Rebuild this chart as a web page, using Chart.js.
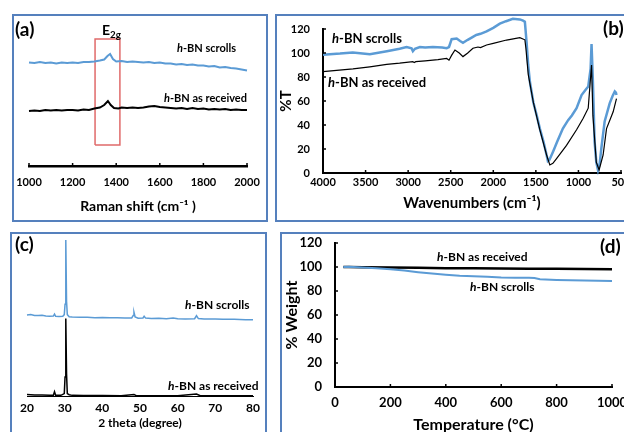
<!DOCTYPE html>
<html>
<head>
<meta charset="utf-8">
<script src="https://cdn.jsdelivr.net/npm/chart.js@4.4.1/dist/chart.umd.min.js"></script>
<style>
  body { margin: 0; width: 624px; height: 432px; overflow: hidden; background: #fff; position: relative; font-family: Lato, sans-serif; }
  .panel { position: absolute; border: 2px solid #5580bd; box-sizing: border-box; }
  .panel canvas { position: absolute; left: 0; top: 0; }
  .lbl { position: absolute; font-weight: bold; line-height: 1; white-space: nowrap; color: #000; }
  .tag { font-size: 19px; }
  sub { font-size: 70%; vertical-align: -3px; }
</style>
</head>
<body>
<div class="panel" style="left:12px;top:14px;width:256px;height:208px;"><canvas id="chartA" width="252" height="204"></canvas></div>
<div class="panel" style="left:275px;top:14px;width:362px;height:208px;"><canvas id="chartB" width="356" height="204"></canvas></div>
<div class="panel" style="left:10px;top:232px;width:257px;height:210px;"><canvas id="chartC" width="253" height="200"></canvas></div>
<div class="panel" style="left:280px;top:232px;width:360px;height:210px;"><canvas id="chartD" width="356" height="200"></canvas></div>

<div class="lbl tag" style="left:15px;top:19px;">(a)</div>
<div class="lbl" style="left:102px;top:23px;font-size:14px;">E<sub>2g</sub></div>
<div class="lbl" style="left:177px;top:42px;font-size:11px;"><i>h</i>-BN scrolls</div>
<div class="lbl" style="left:164px;top:92px;font-size:11px;"><i>h</i>-BN as received</div>

<div class="lbl tag" style="left:603px;top:18px;">(b)</div>
<div class="lbl" style="left:332px;top:32px;font-size:13px;"><i>h</i>-BN scrolls</div>
<div class="lbl" style="left:328px;top:76px;font-size:13px;"><i>h</i>-BN as received</div>

<div class="lbl tag" style="left:15px;top:234px;">(c)</div>
<div class="lbl" style="left:185px;top:299px;font-size:12px;"><i>h</i>-BN scrolls</div>
<div class="lbl" style="left:168px;top:380px;font-size:12px;"><i>h</i>-BN as received</div>

<div class="lbl tag" style="left:600px;top:236px;">(d)</div>
<div class="lbl" style="left:437px;top:251px;font-size:12px;"><i>h</i>-BN as received</div>
<div class="lbl" style="left:470px;top:281px;font-size:12px;"><i>h</i>-BN scrolls</div>

<script>
// (a) Raman, arbitrary intensity
const ramanShift = [1000, 1025, 1050, 1075, 1100, 1125, 1150, 1175, 1200, 1225, 1250, 1275, 1300, 1325, 1345, 1360, 1372, 1385, 1400, 1425, 1450, 1475, 1500, 1525, 1550, 1575, 1600, 1625, 1650, 1675, 1700, 1725, 1750, 1775, 1800, 1825, 1850, 1875, 1900, 1925, 1950, 1975, 2000];
const ramanScrolls = [103.5, 103, 104, 103, 103.5, 102.5, 103.5, 103, 103.5, 103, 104, 104, 104.5, 105.5, 106.5, 110, 112, 107, 104.5, 105, 104, 104.5, 104, 103.5, 104, 103, 103.5, 102.5, 102.5, 101.5, 102, 101, 101.5, 100.5, 100.5, 99.5, 100, 98.5, 99, 98, 97.5, 96.5, 95.5];
const ramanShiftRecv = [1000, 1025, 1050, 1075, 1100, 1125, 1150, 1175, 1200, 1225, 1250, 1275, 1300, 1325, 1345, 1362, 1375, 1390, 1410, 1425, 1450, 1475, 1500, 1525, 1550, 1575, 1600, 1625, 1650, 1675, 1700, 1725, 1750, 1775, 1800, 1825, 1850, 1875, 1900, 1925, 1950, 1975, 2000];
const ramanReceived = [55, 55.5, 55, 56, 55.5, 56, 55.5, 56, 56, 55.5, 56.5, 56, 57.5, 58.5, 61, 65, 61, 58, 57.5, 58.5, 58, 58.5, 58, 58.5, 59.5, 60, 59, 58.5, 58, 57.5, 58, 57, 58, 57, 57.5, 56.5, 57, 56.5, 57, 56, 56.5, 56, 56];
const e2gBoxX = [1303, 1303, 1417, 1417, 1303];
const e2gBoxY = [21, 127, 127, 21, 21];
const ramanTicks = [1000, 2000, 200];

// (b) FTIR
const irScrollsWn = [4000, 3800, 3650, 3450, 3250, 3100, 3018, 2960, 2944, 2920, 2862, 2800, 2709, 2600, 2548, 2520, 2489, 2430, 2390, 2356, 2300, 2239, 2200, 2150, 2079, 2000, 1923, 1850, 1770, 1688, 1650, 1629, 1609, 1590, 1570, 1530, 1490, 1453, 1410, 1374, 1359, 1340, 1297, 1250, 1183, 1121, 1077, 1022, 963, 920, 885, 857, 846, 830, 810, 790, 770, 750, 731, 692, 633, 600, 573, 560, 553];
const irScrollsT = [98.5, 99.5, 100.5, 99, 101.5, 103.5, 105, 104, 101.5, 103.5, 105, 104.5, 105, 104.5, 104, 105, 111.5, 112, 110, 108.5, 111, 113.5, 115, 116, 118, 121, 124.5, 126.5, 128.5, 128, 127, 126, 109, 90, 76, 59, 48, 37, 26, 15, 10, 11, 18, 26, 37, 44, 48, 54, 65, 69, 72, 87, 107.5, 76, 26, 9, 2.5, 8, 20.5, 43, 58, 64, 68, 67, 65];
const irReceivedWn = [4000, 3648, 3450, 3252, 3100, 2944, 2930, 2910, 2800, 2650, 2548, 2520, 2490, 2450, 2400, 2356, 2300, 2239, 2180, 2150, 2079, 2000, 1844, 1750, 1688, 1629, 1617, 1589, 1530, 1453, 1374, 1336, 1300, 1257, 1140, 1022, 944, 885, 846, 830, 790, 757, 710, 670, 592, 553];
const irReceivedT = [84.4, 86.7, 88.5, 90.5, 91.5, 92.8, 92, 92.8, 93.5, 94.5, 95.5, 94, 98, 102.5, 100, 97, 100, 104, 105, 104.5, 106.7, 108, 110.8, 112, 112.8, 111, 104, 82, 59, 36, 15, 6.7, 8, 12, 23, 36, 45.6, 54, 90, 48, 9, 2.5, 15, 37, 51, 62];
const irTicksX = [500, 4000, 500];
const irTicksY = [0, 120, 20];

// (c) XRD, arbitrary intensity
const xrdScrollsX = [20, 21, 22, 23, 24, 25, 26, 27, 27.3, 27.6, 28.5, 29.5, 29.9, 30.1, 30.3, 30.5, 30.7, 31.2, 32, 34, 36, 38, 40, 42, 44, 46, 47.8, 48.2, 48.4, 48.7, 49.5, 50.8, 51.1, 51.5, 53, 55, 57, 58.8, 60, 62, 64.5, 65, 65.5, 67, 70, 72, 75, 78, 80];
const xrdScrollsY = [51.3, 51.6, 51, 50.9, 51.1, 50.7, 50.5, 50.6, 51.8, 50.4, 50.3, 50.5, 51.5, 58, 98.7, 60, 51.5, 50.2, 50, 49.8, 49.9, 49.6, 49.7, 49.5, 49.6, 49.3, 49.4, 51, 53, 50, 49.2, 49.4, 50.5, 49.3, 49.1, 49.2, 48.9, 49.4, 48.9, 48.8, 48.9, 50.8, 49, 48.7, 48.8, 48.5, 48.6, 48.3, 48.2];
const xrdReceivedX = [20, 22, 24, 26, 27, 27.3, 27.6, 29, 29.9, 30.1, 30.3, 30.5, 30.7, 31.2, 32, 35, 40, 45, 48.4, 49, 55, 60, 65, 66, 70, 75, 80];
const xrdReceivedY = [0.9, 0.7, 0.6, 0.5, 0.5, 2.7, 0.5, 0.4, 1.5, 12, 49, 14, 1.5, 0.8, 0.4, 0.3, 0.3, 0.2, 1, 0.2, 0.2, 0.2, 1.2, 0.2, 0.2, 0.2, 0.2];
const xrdTicks = [20, 80, 10];

// (d) TGA
const tgaReceivedT = [30, 50, 100, 200, 300, 400, 500, 600, 700, 800, 900, 1000];
const tgaReceivedW = [100, 100, 99.7, 99.5, 99.3, 99, 98.9, 98.7, 98.6, 98.5, 98.3, 98.2];
const tgaScrollsT = [30, 50, 100, 150, 200, 250, 300, 350, 400, 450, 500, 550, 600, 650, 700, 720, 740, 800, 900, 1000];
const tgaScrollsW = [100, 100.2, 99.6, 99, 98.2, 97, 95.7, 94.5, 93.5, 92.7, 92.2, 91.8, 91.3, 91.1, 91, 90.8, 89.8, 89.2, 88.7, 88.4];
const tgaTicksX = [0, 1000, 200];
const tgaTicksY = [0, 120, 20];

const BLUE = "#5b9bd5";

Chart.defaults.font.family = "Lato";
Chart.defaults.font.weight = "bold";
Chart.defaults.color = "#000";

function pts(xs, ys) {
    return xs.map((x, i) => ({ x: x, y: ys[i] }));
}

function line(xs, ys, color, width) {
    return {
        data: pts(xs, ys),
        borderColor: color,
        borderWidth: width,
        pointRadius: 0,
        tension: 0,
        fill: false,
        clip: false
    };
}

// short tick marks drawn inward from the axis line
const innerTicks = {
    id: "innerTicks",
    afterDraw(chart, args, opts) {
        const ctx = chart.ctx;
        ctx.save();
        ctx.strokeStyle = "#000";
        ctx.lineWidth = opts.width || 1.5;
        (opts.axes || []).forEach(id => {
            const s = chart.scales[id];
            s.ticks.forEach(t => {
                const p = s.getPixelForValue(t.value);
                ctx.beginPath();
                if (s.isHorizontal()) {
                    ctx.moveTo(p, s.top);
                    ctx.lineTo(p, s.top - opts.len);
                } else {
                    ctx.moveTo(s.right, p);
                    ctx.lineTo(s.right + opts.len, p);
                }
                ctx.stroke();
            });
        });
        ctx.restore();
    }
};

const plain = v => String(v);

// fixed axis size; edge labels may overhang, the layout padding decides the plot box
function fixSize(key, size) {
    return s => {
        s[key] = size;
        s.paddingLeft = s.paddingRight = s.paddingTop = s.paddingBottom = 0;
    };
}

function xAxis(range, opts) {
    return {
        type: "linear",
        min: range[0],
        max: range[1],
        reverse: !!opts.reverse,
        display: true,
        afterFit: fixSize("height", opts.height),
        grid: { display: false, drawTicks: false },
        border: { display: true, color: "#000", width: opts.borderWidth || 2 },
        ticks: {
            stepSize: range[2],
            autoSkip: false,
            maxRotation: 0,
            padding: opts.pad,
            callback: plain,
            font: { size: opts.font, weight: "bold" }
        },
        title: {
            display: true,
            text: opts.title,
            font: { size: opts.titleFont, weight: "bold" },
            padding: { top: 0, bottom: opts.titlePad }
        }
    };
}

function yAxis(range, opts) {
    return {
        type: "linear",
        min: range[0],
        max: range[1],
        afterFit: fixSize("width", opts.width),
        grid: { display: false, drawTicks: false },
        border: { display: true, color: "#000", width: 2 },
        ticks: {
            stepSize: range[2],
            autoSkip: false,
            padding: opts.pad,
            callback: plain,
            font: { size: opts.font, weight: "bold" }
        },
        title: {
            display: true,
            text: opts.title,
            font: { size: opts.titleFont, weight: "bold" },
            padding: { top: opts.titlePad, bottom: 0 }
        }
    };
}

function hiddenY(max) {
    return { type: "linear", min: 0, max: max, display: false };
}

function baseOptions(padding, scales, tickAxes) {
    return {
        responsive: false,
        animation: false,
        layout: { padding: padding },
        plugins: {
            legend: { display: false },
            tooltip: { enabled: false },
            innerTicks: { axes: tickAxes, len: 3, width: 1.5 }
        },
        scales: scales
    };
}

// (a)
new Chart(document.getElementById("chartA"), {
    type: "line",
    data: {
        datasets: [
            line(ramanShift, ramanScrolls, BLUE, 2),
            line(ramanShiftRecv, ramanReceived, "#000", 2),
            line(e2gBoxX, e2gBoxY, "#e06a6a", 1.5)
        ]
    },
    options: baseOptions(
        { left: 15, right: 19, top: 0, bottom: 0 },
        {
            x: xAxis(ramanTicks, { height: 54, pad: 10, font: 11, title: "Raman shift (cm\u207B\u00B9 )", titleFont: 14, titlePad: 5, borderWidth: 2.5 }),
            y: hiddenY(150)
        },
        ["x"]
    ),
    plugins: [innerTicks]
});

// (b)
new Chart(document.getElementById("chartB"), {
    type: "line",
    data: {
        datasets: [
            line(irReceivedWn, irReceivedT, "#000", 1.2),
            line(irScrollsWn, irScrollsT, BLUE, 2.5)
        ]
    },
    options: baseOptions(
        { left: 0, right: 12, top: 13, bottom: 0 },
        {
            x: xAxis(irTicksX, { reverse: true, height: 47, pad: 3, font: 11, title: "Wavenumbers (cm\u207B\u00B9)", titleFont: 15, titlePad: 8 }),
            y: yAxis(irTicksY, { width: 46, pad: 13, font: 11, title: "%T", titleFont: 15, titlePad: 0 })
        },
        ["x", "y"]
    ),
    plugins: [innerTicks]
});

// (c)
new Chart(document.getElementById("chartC"), {
    type: "line",
    data: {
        datasets: [
            line(xrdScrollsX, xrdScrollsY, BLUE, 1.5),
            line(xrdReceivedX, xrdReceivedY, "#000", 1.5)
        ]
    },
    options: baseOptions(
        { left: 15, right: 12, top: 4, bottom: 0 },
        {
            x: xAxis(xrdTicks, { height: 38, pad: 5, font: 12, title: "2 theta (degree)", titleFont: 12, titlePad: 4, borderWidth: 1 }),
            y: hiddenY(100)
        },
        []
    ),
    plugins: [innerTicks]
});

// (d)
new Chart(document.getElementById("chartD"), {
    type: "line",
    data: {
        datasets: [
            line(tgaScrollsT, tgaScrollsW, BLUE, 2),
            line(tgaReceivedT, tgaReceivedW, "#000", 2.5)
        ]
    },
    options: baseOptions(
        { left: 0, right: 26, top: 9, bottom: 0 },
        {
            x: xAxis(tgaTicksX, { height: 47, pad: 8, font: 13, title: "Temperature (\u00B0C)", titleFont: 16, titlePad: 0 }),
            y: yAxis(tgaTicksY, { width: 53, pad: 13, font: 13, title: "% Weight", titleFont: 16, titlePad: 0 })
        },
        ["x", "y"]
    ),
    plugins: [innerTicks]
});
</script>
</body>
</html>
